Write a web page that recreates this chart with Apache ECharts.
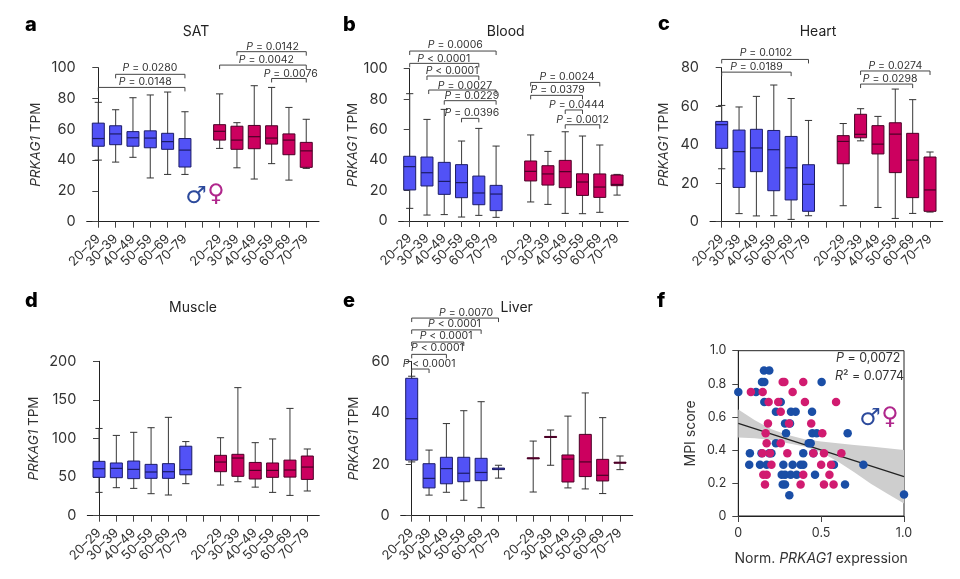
<!DOCTYPE html>
<html><head><meta charset="utf-8">
<style>html,body{margin:0;padding:0;background:#fff}#c{width:960px;height:579px}</style>
<script src="https://cdn.jsdelivr.net/npm/echarts@6/dist/echarts.min.js"></script>
</head><body><div id="c"></div>
<script>
// ---------- data: each box row is [low whisker, Q1, median, Q3, high whisker] ----------
const ageGroups = ['20–29','30–39','40–49','50–59','60–69','70–79'];

const satMale = [[40,49,54,64,77.5],[38.7,50,57,62.3,72.7],[41.8,49,54.5,58.5,80.5],[28.4,48,54.3,59,82.3],[30.7,47,52,57.4,84.2],[30.7,35.5,46.5,54,71.4]];
const satFemale = [[47.6,53,58.7,63,83],[35,47,53,62,64.3],[27.7,47.4,55.2,62.5,88.3],[37.7,50.4,54.3,62.3,87.2],[27,43.5,53,57,74.2],[34.6,35.3,46,51.5,66.5]];
const bloodMale = [[8.3,20.4,35.7,42.5,83.6],[3.9,23,31.7,42,66.7],[4.2,17.5,26,38.5,73.3],[2.6,15.3,25.2,37,52.5],[3.7,10.7,18.4,29.5,60.8],[2.4,6.8,17.7,23.4,49.2]];
const bloodFemale = [[12.5,26.3,32.6,39.4,56.5],[10.9,23.6,30.9,36.3,45.7],[5,21.9,32.4,39.8,58.6],[4.8,16.8,25.6,31,55.8],[5.7,15.5,22.3,30.9,49.9],[17,23.2,24,30.2,30.6]];
const heartMale = [[27.5,38.1,50.4,52.1,60.4],[4.2,17.8,36.4,47.6,59.6],[3,26,38.3,48,65.1],[3.1,16.1,37.4,47.4,71],[1.2,11.3,28,44.3,64],[3.1,5.4,19.4,29.6,52.6]];
const heartFemale = [[8.3,30.1,41.7,44.7,51],[42,43.6,45.4,55.8,58.7],[7.4,35.2,40.3,49.9,54.7],[1.7,25.5,45.5,51.4,68.9],[4.3,12.5,32,45.9,63.4],[5,5.4,16.5,33.6,36.2]];
const muscleMale = [[30.2,49.7,60.9,70.4,113],[36.3,49.2,61.3,68.3,104],[35.4,48,60,70.8,108],[28.5,48.4,56.6,66.5,114],[26.8,48.4,57,67.4,127.4],[41.5,53,59.6,90,96]];
const muscleFemale = [[39.7,57,69.5,78.2,101],[44,51,74.7,79.5,165.9],[37,47.5,58.7,69,94.6],[30.2,49.7,58.7,68.3,99.4],[26.3,50,59.2,72,139],[32,47,63,77.3,86.4]];
const liverMale = [[20.9,21.6,37.7,53.4,54.2],[8,10.8,14.5,20.2,25.5],[9.1,12.4,18.3,22.7,35.8],[6,13.2,16.5,22.7,40.8],[3.1,13.6,16.8,22.3,44.3],[14.6,17.9,18.1,18.5,19.6]];
const liverFemale = [[9.2,22.1,22.3,22.5,29],[19.6,30.4,30.6,30.8,33.3],[10.8,13.1,22,23.6,38.7],[10.4,15.2,20.9,31.6,47.7],[8.6,13.5,15.7,21.9,38.1],[17.9,20.4,20.6,20.8,23.2]];

// brackets: [from group, to group, bracket height, P text, label centre group, label height] (axis units)
const satBrackets = [[1,5,95.7,'= 0.0280',2.98,99.8],[0,5,87.2,'= 0.0148',2.71,90.7],[8,12,110.4,'= 0.0142',10.06,113.4],[7,12,101.7,'= 0.0042',9.7,105.4],[10,12,93,'= 0.0076',11.1,96]];
const bloodBrackets = [[0,5,111.6,'= 0.0006',2.64,115.5],[0,4,103.5,'< 0.0001',1.97,106.6],[1,4,95.2,'< 0.0001',2.45,98.5],[1.1,5,86,'= 0.0027',3.2,89],[2,5,79,'= 0.0229',3.6,82],[3,4,67.4,'= 0.0396',3.6,70.7],[7,11,91,'= 0.0024',9.1,94.5],[7,10,82.5,'= 0.0379',8.56,86],[9,10,72.9,'= 0.0444',9.67,76],[9,11,63.2,'= 0.0012',10,66.5]];
const heartBrackets = [[0,5,84.3,'= 0.0102',2.55,87.8],[0,4,77.7,'= 0.0189',2,80.2],[8,12,78.3,'= 0.0274',10,81.2],[8,11,71.5,'= 0.0298',9.7,74.3]];
const muscleBrackets = [];
const liverBrackets = [[0,5,76.8,'= 0.0070',3.13,79],[0,4,72.2,'< 0.0001',2.46,74.5],[0,3,67.5,'< 0.0001',1.98,69.7],[0,2,62.7,'< 0.0001',1.48,65.2],[0,1,57,'< 0.0001',1,59]];

// panel f: [normalised expression, MPI score]
const mpiMale = [[0,.75],[.107,.75],[.155,.88],[.187,.88],[.143,.81],[.157,.81],[.157,.69],[.256,.69],[.227,.63],[.318,.63],[.346,.63],[.445,.63],[.503,.81],[.282,.56],[.312,.56],[.288,.5],[.447,.5],[.473,.5],[.66,.5],[.437,.44],[.425,.44],[.227,.44],[.07,.38],[.14,.38],[.2,.38],[.187,.38],[.392,.38],[.453,.38],[.066,.31],[.131,.31],[.171,.31],[.272,.31],[.328,.31],[.376,.31],[.392,.31],[.577,.31],[.755,.31],[.262,.25],[.282,.25],[.316,.25],[.352,.25],[.463,.25],[.268,.19],[.282,.19],[.644,.19],[.308,.125],[1,.13]];
const mpiFemale = [[.076,.75],[.147,.75],[.183,.69],[.241,.69],[.256,.63],[.268,.81],[.278,.81],[.392,.81],[.328,.75],[.402,.69],[.59,.69],[.179,.56],[.306,.56],[.44,.56],[.165,.5],[.507,.5],[.171,.44],[.256,.44],[.145,.38],[.191,.38],[.296,.38],[.453,.38],[.517,.38],[.622,.38],[.2,.31],[.5,.31],[.56,.31],[.151,.25],[.171,.25],[.392,.25],[.55,.25],[.161,.19],[.376,.19],[.517,.19],[.575,.19]];
const fitLine = [[0,.56],[1,.238]];
const bandX = [0,.1,.2,.3,.4,.5,.6,.7,.8,.9,1];
const bandLower = [.475,.47,.46,.44,.42,.385,.33,.265,.195,.135,.075];
const bandUpper = [.645,.58,.525,.49,.465,.45,.44,.43,.42,.41,.40];

// ---------- layout and styling ----------
const FONT = 'Inter, "Noto Sans", sans-serif';
const TEXT = '#333';
const BLUE = '#5252F6', BLUE_EDGE = '#1c1c66';
const RED = '#CC005F', RED_EDGE = '#4a0026';

const panels = [
  {title:'SAT',   letter:'a', male:satMale,   female:satFemale,   br:satBrackets,   max:100, step:20, l:86.7,  r:319,   t:67.7,  b:221.7, x0:98.3,  dx:17.33, tx:196,   ty:32,  ln:[25,15],  nameX:35},
  {title:'Blood', letter:'b', male:bloodMale, female:bloodFemale, br:bloodBrackets, max:100, step:20, l:398.7, r:628.3, t:68.7,  b:221,   x0:409.7, dx:17.28, tx:505.7, ty:32,  ln:[343,15], nameX:351.7},
  {title:'Heart', letter:'c', male:heartMale, female:heartFemale, br:heartBrackets, max:80,  step:20, l:710,   r:942.7, t:67.7,  b:221.7, x0:721.7, dx:17.36, tx:818,   ty:32,  ln:[658,14], nameX:663},
  {title:'Muscle',letter:'d', male:muscleMale,female:muscleFemale,br:muscleBrackets,max:200, step:50, l:87.3,  r:319.3, t:361.3, b:515.7, x0:99,    dx:17.36, tx:193,   ty:308, ln:[25,291], nameX:33},
  {title:'Liver', letter:'e', male:liverMale, female:liverFemale, br:liverBrackets, max:60,  step:20, l:400.7, r:632.7, t:361.3, b:515.7, x0:411.7, dx:17.36, tx:516.7, ty:308, ln:[343,291],nameX:353}
];
const scatter = {l:738.3, r:904, t:350.7, b:516};

const grids=[], xAxes=[], yAxes=[], series=[], titles=[];
const rich = {i:{fontStyle:'italic',fontFamily:FONT,fontSize:13.5,color:TEXT}, n:{fontFamily:FONT,fontSize:13.5,color:TEXT}};
const richF = {i:{fontStyle:'italic',fontFamily:FONT,fontSize:14,color:TEXT}, n:{fontFamily:FONT,fontSize:14,color:TEXT}};

function boxRenderer(fill, edge){
  return function(params, api){
    const x = api.value(0);
    const p = i => api.coord([x, api.value(i)]);
    const lo=p(1), q1=p(2), med=p(3), q3=p(4), hi=p(5);
    const half=6, cap=3.6, wh='#4a4a4a';
    const line=(x1,y1,x2,y2,c,w)=>({type:'line',shape:{x1,y1,x2,y2},style:{stroke:c,lineWidth:w}});
    return {type:'group',children:[
      line(lo[0],hi[1],lo[0],lo[1],wh,1.1),
      line(lo[0]-cap,hi[1],lo[0]+cap,hi[1],'#333',1),
      line(lo[0]-cap,lo[1],lo[0]+cap,lo[1],'#333',1),
      {type:'rect',shape:{x:lo[0]-half,y:q3[1],width:half*2,height:q1[1]-q3[1]},style:{fill,stroke:edge,lineWidth:1}},
      line(lo[0]-half,med[1],lo[0]+half,med[1],edge,1.2)
    ]};
  };
}
function bracketRenderer(rows){
  return function(params, api){
    const r = rows[params.dataIndex];
    const a=api.coord([r[0],r[2]]), b=api.coord([r[1],r[2]]), c=api.coord([r[4],r[5]]);
    return {type:'group',children:[
      {type:'polyline',shape:{points:[[a[0],a[1]+4],[a[0],a[1]],[b[0],b[1]],[b[0],b[1]+4]]},style:{stroke:'#444',lineWidth:1,fill:null}},
      {type:'text',style:{text:'{i|P} '+r[3],x:c[0],y:c[1],align:'center',verticalAlign:'middle',font:'10.5px '+FONT,fill:'#333',
        rich:{i:{font:'italic 10.5px '+FONT,fill:'#333'}}}}
    ]};
  };
}

panels.forEach((pn,i)=>{
  grids.push({left:pn.l,top:pn.t,width:pn.r-pn.l,height:pn.b-pn.t});
  const ticks=[0,1,2,3,4,5,6,7,8,9,10,11,12];
  const labels=[...ageGroups,'',...ageGroups];
  const xMin=(pn.l-pn.x0)/pn.dx, xMax=(pn.r-pn.x0)/pn.dx;
  xAxes.push({type:'value',gridIndex:i,min:xMin,max:xMax,splitLine:{show:false},
    axisLine:{lineStyle:{color:'#222',width:1}},
    axisTick:{customValues:ticks,length:6,lineStyle:{color:'#444'}},
    // blank labels at both axis ends absorb the library's first/last label overlap trimming
    axisLabel:{customValues:[xMin,...ticks.filter(t=>t!==6),xMax],formatter:v=>labels[v]||'',rotate:45,margin:15,
      fontFamily:FONT,fontSize:13,color:TEXT,hideOverlap:false}});
  yAxes.push({type:'value',gridIndex:i,min:0,max:pn.max,interval:pn.step,splitLine:{show:false},
    axisLine:{show:true,lineStyle:{color:'#222',width:1}},
    axisTick:{show:true,length:6,lineStyle:{color:'#444'}},
    axisLabel:{margin:11,fontFamily:FONT,fontSize:14.5,color:TEXT},
    name:'{i|PRKAG1}{n| TPM}',nameLocation:'middle',nameGap:pn.l-pn.nameX-8,nameRotate:90,nameTextStyle:{rich,fontFamily:FONT,fontSize:13.5,color:TEXT}});
  series.push({type:'custom',name:'Male',xAxisIndex:i,yAxisIndex:i,renderItem:boxRenderer(BLUE,BLUE_EDGE),
    data:pn.male.map((r,k)=>[k,...r]),encode:{x:0,y:[1,2,3,4,5]},silent:true});
  series.push({type:'custom',name:'Female',xAxisIndex:i,yAxisIndex:i,renderItem:boxRenderer(RED,RED_EDGE),
    data:pn.female.map((r,k)=>[k+7,...r]),encode:{x:0,y:[1,2,3,4,5]},silent:true});
  if(pn.br.length) series.push({type:'custom',name:'P values',xAxisIndex:i,yAxisIndex:i,renderItem:bracketRenderer(pn.br),
    data:pn.br.map(r=>[r[0],r[1],r[2],r[4],r[5]]),encode:{x:[0,1,3],y:[2,4]},silent:true});
  titles.push({text:pn.title,left:pn.tx,top:pn.ty-7,padding:0,textAlign:'center',textStyle:{fontFamily:FONT,fontSize:14,fontWeight:'normal',color:'#222'}});
  titles.push({text:pn.letter,left:pn.ln[0],top:pn.ln[1],padding:0,textStyle:{fontFamily:FONT,fontSize:20,fontWeight:800,color:'#000'}});
});

// panel f
const fi = panels.length;
grids.push({left:scatter.l,top:scatter.t,width:scatter.r-scatter.l,height:scatter.b-scatter.t,show:true,borderColor:'#222',borderWidth:1,backgroundColor:'transparent'});
xAxes.push({type:'value',gridIndex:fi,min:0,max:1,interval:.5,splitLine:{show:false},
  axisLine:{lineStyle:{color:'#222'}},axisTick:{length:6,lineStyle:{color:'#444'}},
  axisLabel:{margin:11,fontFamily:FONT,fontSize:12.5,color:TEXT,formatter:v=>v===0?'0':v.toFixed(1)},
  name:'Norm. {i|PRKAG1}{n| expression}',nameLocation:'middle',nameGap:36,nameTextStyle:{rich:richF,fontFamily:FONT,fontSize:14,color:TEXT}});
yAxes.push({type:'value',gridIndex:fi,min:0,max:1,interval:.2,splitLine:{show:false},
  axisLine:{show:true,lineStyle:{color:'#222'}},axisTick:{show:true,length:6,lineStyle:{color:'#444'}},
  axisLabel:{margin:12,fontFamily:FONT,fontSize:12.5,color:TEXT,formatter:v=>v===0?'0':v.toFixed(1)},
  name:'MPI score',nameLocation:'middle',nameGap:scatter.l-689-9,nameRotate:90,nameTextStyle:{fontFamily:FONT,fontSize:14,color:TEXT}});
titles.push({text:'f',left:657,top:291,padding:0,textStyle:{fontFamily:FONT,fontSize:20,fontWeight:800,color:'#000'}});

// confidence band: one closed polygon built from the band arrays
series.push({type:'custom',name:'95% CI',xAxisIndex:fi,yAxisIndex:fi,silent:true,z:1,
  data:bandX.map((x,k)=>[x,bandLower[k],bandUpper[k]]),encode:{x:0,y:[1,2]},
  renderItem:(params,api)=>{
    if(params.dataIndex!==0) return null;
    const up=bandX.map((x,k)=>api.coord([x,bandUpper[k]]));
    const lo=bandX.map((x,k)=>api.coord([x,bandLower[k]])).reverse();
    return {type:'polygon',shape:{points:up.concat(lo)},style:{fill:'#cecece'}};
  }});
series.push({type:'line',name:'Fit',xAxisIndex:fi,yAxisIndex:fi,data:fitLine,symbol:'none',lineStyle:{color:'#222',width:1.2},z:2,silent:true});
series.push({type:'scatter',name:'Male',xAxisIndex:fi,yAxisIndex:fi,data:mpiMale,symbolSize:8.5,itemStyle:{color:'#1A4EA6',opacity:1},z:3,silent:true,clip:false});
series.push({type:'scatter',name:'Female',xAxisIndex:fi,yAxisIndex:fi,data:mpiFemale,symbolSize:8.5,itemStyle:{color:'#D11B70',opacity:1},z:4,silent:true,clip:false});

const sym=(t,x,y,c)=>({type:'text',x,y,z:10,style:{text:t,fill:c,font:'24px "DejaVu Sans"',align:'center',verticalAlign:'middle'}});
const graphic=[
  sym('♂',196,197,'#2C4A9C'),sym('♀',216,195,'#B0278C'),
  sym('♂',870,419,'#2C4A9C'),sym('♀',890,418,'#B0278C'),
  {type:'text',left:836,top:352,z:10,style:{text:'{i|P} = 0,0072',fill:TEXT,font:'12.5px '+FONT,rich:{i:{font:'italic 12.5px '+FONT,fill:TEXT}}}},
  {type:'text',left:835,top:370,z:10,style:{text:'{i|R}² = 0.0774',fill:TEXT,font:'12.5px '+FONT,rich:{i:{font:'italic 12.5px '+FONT,fill:TEXT}}}}
];

const chart = echarts.init(document.getElementById('c'),null,{renderer:'canvas'});
chart.setOption({animation:false,backgroundColor:'#fff',title:titles,grid:grids,xAxis:xAxes,yAxis:yAxes,series,graphic,tooltip:{show:false}});
</script></body></html>
